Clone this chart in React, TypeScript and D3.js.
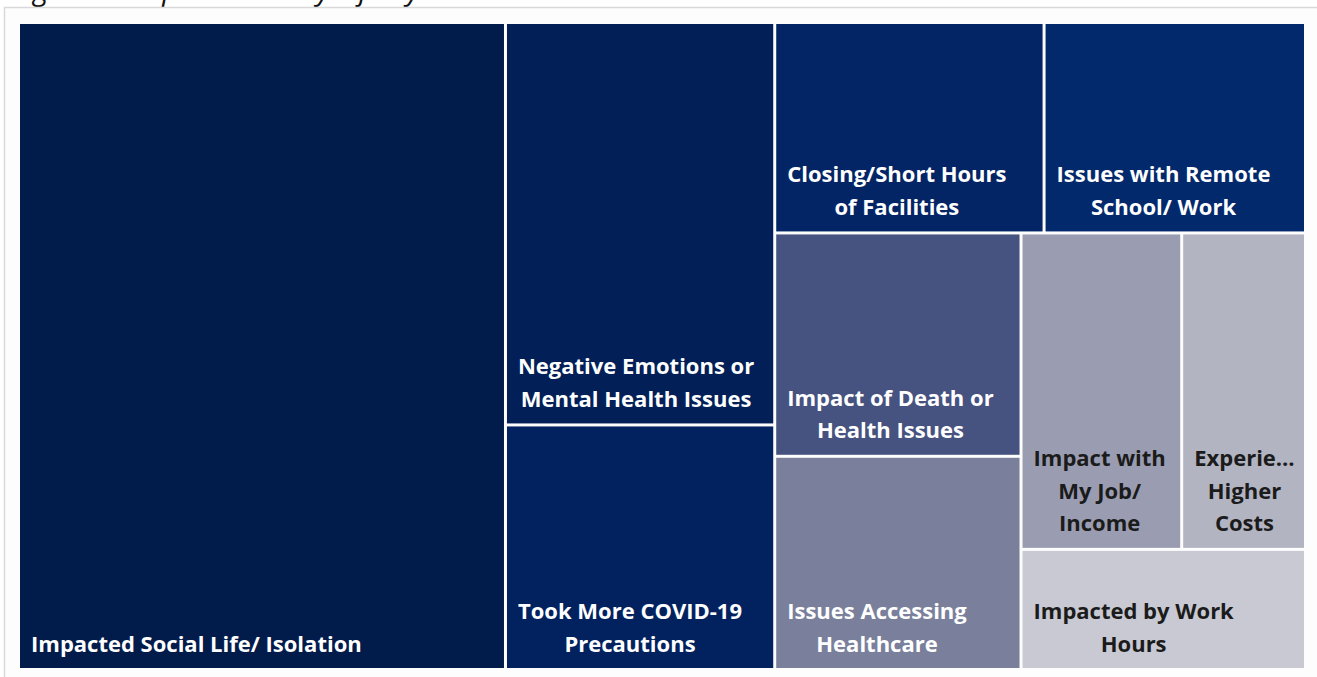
import React from "react";
import * as d3 from "d3";

const categories = [
  "Impacted Social Life/ Isolation",
  "Negative Emotions or Mental Health Issues",
  "Took More COVID-19 Precautions",
  "Closing/Short Hours of Facilities",
  "Issues with Remote School/ Work",
  "Impact of Death or Health Issues",
  "Issues Accessing Healthcare",
  "Impact with My Job/ Income",
  "Experienced Higher Costs",
  "Impacted by Work Hours",
];
const labelLines = [
  ["Impacted Social Life/ Isolation"],
  ["Negative Emotions or", "Mental Health Issues"],
  ["Took More COVID-19", "Precautions"],
  ["Closing/Short Hours", "of Facilities"],
  ["Issues with Remote", "School/ Work"],
  ["Impact of Death or", "Health Issues"],
  ["Issues Accessing", "Healthcare"],
  ["Impact with", "My Job/", "Income"],
  ["Experie…", "Higher", "Costs"],
  ["Impacted by Work", "Hours"],
];
const values = [378, 130, 79, 68, 66, 66, 63, 61, 47, 41];
const colors = [
  "#011b4b", "#021f58", "#02225f", "#032566", "#03296d",
  "#46527f", "#7a7f9c", "#9a9db1", "#b2b4c2", "#c8c9d3",
];
const textColors = ["#fff", "#fff", "#fff", "#fff", "#fff", "#fff", "#fff", "#1b1b1b", "#1b1b1b", "#1b1b1b"];
const title = "Figure 5: Impact on Daily Life by Area";

// tiling structure (Excel-like layout): dice = horizontal split, slice = vertical split
const layout: any = {
  dir: "dice",
  children: [
    0,
    { dir: "slice", children: [1, 2] },
    {
      dir: "slice",
      children: [
        { dir: "dice", children: [3, 4] },
        {
          dir: "dice",
          children: [
            { dir: "slice", children: [5, 6] },
            { dir: "slice", children: [{ dir: "dice", children: [7, 8] }, 9] },
          ],
        },
      ],
    },
  ],
};

function build(n: any): any {
  if (typeof n === "number") return { idx: n, name: categories[n], value: values[n] };
  return { dir: n.dir, children: n.children.map(build) };
}

const FS = 22;
const FONT = `700 ${FS}px 'Open Sans'`;
let ctx: CanvasRenderingContext2D | null = null;
function measure(s: string) {
  if (!ctx) ctx = document.createElement("canvas").getContext("2d");
  if (!ctx) return s.length * 11;
  ctx.font = FONT;
  return ctx.measureText(s).width;
}

export default function App() {
  const W = 1317, H = 677;
  const X0 = 20, Y0 = 24, X1 = 1304, Y1 = 668;
  const root = d3
    .hierarchy(build(layout))
    .sum((d: any) => (d.children ? 0 : d.value));
  d3
    .treemap()
    .tile((node: any, x0, y0, x1, y1) =>
      (node.data.dir === "slice" ? d3.treemapSlice : d3.treemapDice)(node, x0, y0, x1, y1)
    )
    .size([X1 - X0, Y1 - Y0])
    .paddingInner(3)(root as any);
  const leaves: any[] = root.leaves();
  const lh = 32.5;
  return (
    <div style={{ position: "absolute", left: 0, top: 0 }}>
      <svg width={W} height={H} style={{ display: "block", background: "#fff" }}>
        <text x={12} y={0} fontFamily="'Open Sans'" fontStyle="italic" fontSize={29} fill="#111">
          {title}
        </text>
        <rect x={4.5} y={7.5} width={W} height={H} fill="#fdfdfd" stroke="#d9d9d9" strokeWidth={1.5} />
        <g transform={`translate(${X0},${Y0})`}>
          {leaves.map((l) => {
            const i = l.data.idx;
            const lines = labelLines[i];
            const bw = Math.max(...lines.map(measure));
            const cx = l.x0 + 11 + bw / 2;
            const lastY = l.y1 - 16.5;
            return (
              <g key={i}>
                <rect x={l.x0} y={l.y0} width={l.x1 - l.x0} height={l.y1 - l.y0} fill={colors[i]} />
                {lines.map((s: string, k: number) => (
                  <text
                    key={k}
                    x={lines.length > 1 ? cx : l.x0 + 11}
                    y={lastY - (lines.length - 1 - k) * lh}
                    textAnchor={lines.length > 1 ? "middle" : "start"}
                    fontFamily="'Open Sans'"
                    fontWeight={700}
                    fontSize={FS}
                    fill={textColors[i]}
                  >
                    {s}
                  </text>
                ))}
              </g>
            );
          })}
        </g>
      </svg>
    </div>
  );
}
